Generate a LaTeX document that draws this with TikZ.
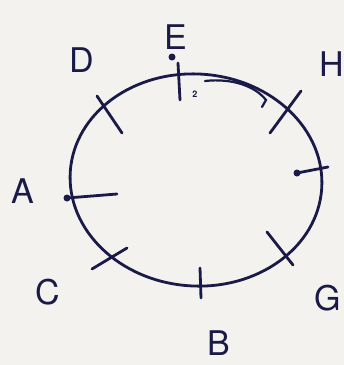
\documentclass[tikz,border=0pt]{standalone}
\usepackage{fontspec}
\setmainfont{TeX Gyre Heros}
\begin{document}
\begin{tikzpicture}[x=1pt,y=-1pt,
  pen/.style={draw=ink,line width=2.8pt,line cap=round},
  lbl/.style={text=ink,font=\fontsize{34}{34}\selectfont,inner sep=0pt},
  dot/.style={fill=ink,circle,inner sep=0pt,minimum size=7pt}]
\definecolor{ink}{HTML}{1A1A48}
\definecolor{paper}{HTML}{F3F2EE}
\fill[paper] (0,0) rectangle (344,365);
\useasboundingbox (0,0) rectangle (344,365);
% circle
\draw[pen] (196,180) ellipse [x radius=126, y radius=106, rotate=-4];
% tick end points
\coordinate (e1) at (178,63);  \coordinate (e2) at (180,100);
\coordinate (d1) at (97,96);   \coordinate (d2) at (122,133);
\coordinate (h1) at (301,91);  \coordinate (h2) at (270,133);
\coordinate (r1) at (297,173); \coordinate (r2) at (328,167);
\coordinate (g1) at (267,232); \coordinate (g2) at (293,265);
\coordinate (b1) at (200,268); \coordinate (b2) at (201,298);
\coordinate (c1) at (92,269);  \coordinate (c2) at (127,248);
\coordinate (a1) at (67,198);  \coordinate (a2) at (117,194);
\foreach \p in {e,d,h,r,g,b,c,a} \draw[pen] (\p1) -- (\p2);
% dots
\node[dot] (de) at (172,57) {};
\node[dot] (da) at (a1) {};
\node[dot] (dr) at (r1) {};
% arc arrow from E towards H
\coordinate (s1) at (205,81);
\coordinate (s2) at (266,100);
\coordinate (s3) at (262,107);
\draw[pen,line width=2.2pt] (s1) .. controls (232,78) and (255,86) .. (s2) -- (s3);
% small mark
\node[text=ink,font=\bfseries\fontsize{9}{9}\selectfont,inner sep=0pt] (two) at (195,94) {2};
% labels
\node[lbl] (E) at (176,37) {E};
\node[lbl] (D) at (82,60) {D};
\node[lbl] (H) at (332,64) {H};
\node[lbl] (A) at (23,191) {A};
\node[lbl] (C) at (48,292) {C};
\node[lbl] (B) at (219,343) {B};
\node[lbl] (G) at (328,298) {G};
\end{tikzpicture}
\end{document}
